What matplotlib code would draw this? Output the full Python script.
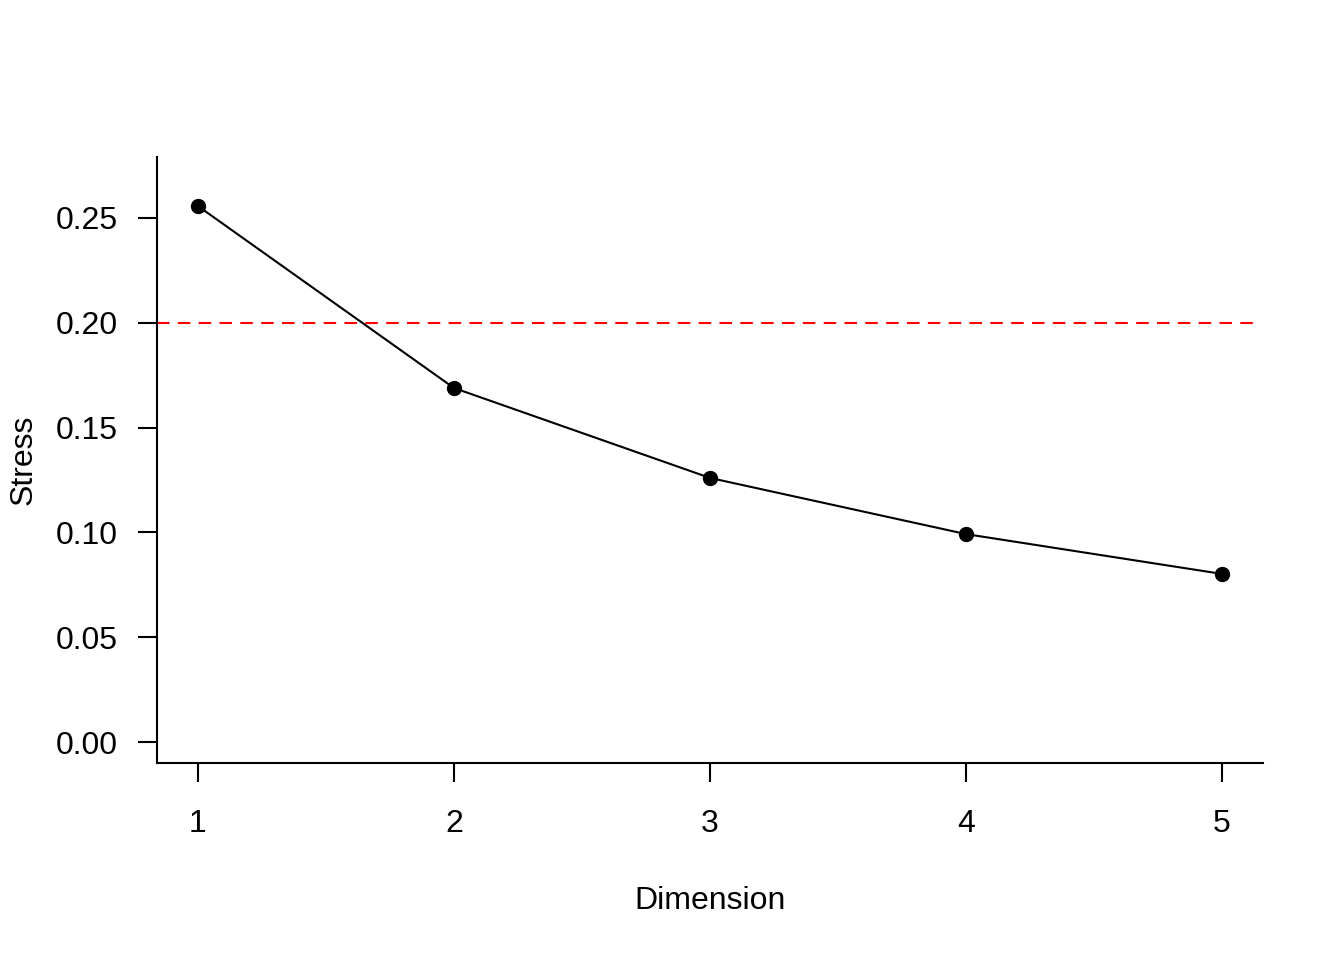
import matplotlib
matplotlib.use("Agg")
import matplotlib.pyplot as plt

dims = [1, 2, 3, 4, 5]
stress = [0.2557, 0.1689, 0.1260, 0.0992, 0.0802]
threshold = 0.20
xticks = [1, 2, 3, 4, 5]
yticks = [0.00, 0.05, 0.10, 0.15, 0.20, 0.25]

plt.rcParams['font.family'] = ['Liberation Sans', 'DejaVu Sans']

fig = plt.figure(figsize=(13.44, 9.6), dpi=100)
ax = fig.add_axes([157/1344, 1-763/960, (1263-157)/1344, (763-157)/960])

ax.axhline(threshold, xmax=0.996, color='#ff0000', lw=1.5, ls=(0, (6, 4)), zorder=1)
ax.plot(dims, stress, color='black', lw=1.5, marker='o', markersize=10, zorder=2)

ax.set_xlim(0.84, 5.16)
ax.set_ylim(-0.0100, 0.2791)
ax.set_xticks(xticks)
ax.set_xticklabels([str(x) for x in xticks])
ax.set_yticks(yticks)
ax.set_yticklabels(['%.2f' % y for y in yticks])

for s in ['top', 'right']:
    ax.spines[s].set_visible(False)
for s in ['left', 'bottom']:
    ax.spines[s].set_linewidth(1.5)

ax.tick_params(axis='both', direction='out', length=14, width=1.5, labelsize=23)
ax.tick_params(axis='x', pad=19)
ax.tick_params(axis='y', pad=14)

fig.text(710/1344, 1-901/960, 'Dimension', ha='center', va='center', fontsize=23)
fig.text(24/1344, 1-460/960, 'Stress', ha='center', va='center', rotation=90, fontsize=23)

fig.savefig('out.png', dpi=100)
